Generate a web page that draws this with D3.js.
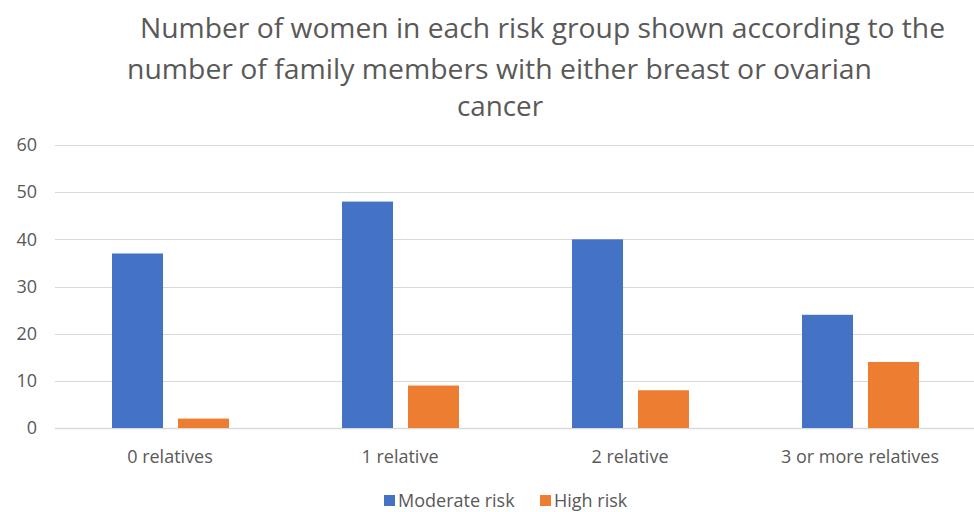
<!DOCTYPE html>
<html>
<head>
<meta charset="utf-8">
<script src="https://cdn.jsdelivr.net/npm/d3@7"></script>
<style>
  body { margin: 0; background: #fff; }
  text { font-family: "Open Sans", "Noto Sans", sans-serif; fill: #595959; }
</style>
</head>
<body>
<script>
const width = 974;
const height = 512;

const categories = ['0 relatives', '1 relative', '2 relative', '3 or more relatives'];
const seriesNames = ['Moderate risk', 'High risk'];
const moderate = [37, 48, 40, 24];
const high = [2, 9, 8, 14];
const yTicks = [0, 10, 20, 30, 40, 50, 60];
const titleLines = [
  'Number of women in each risk group shown according to the',
  'number of family members with either breast or ovarian',
  'cancer',
];
const colors = ['#4472C4', '#ED7D31'];

const rows = categories.map(function (c, i) {
  return { cat: c, values: [moderate[i], high[i]] };
});

const svg = d3.select('body').append('svg').attr('width', width).attr('height', height);

// title
const titlePos = [
  { x: 140, y: 38, w: 805 },
  { x: 127, y: 79, w: 745 },
  { x: 457, y: 116, w: 86 },
];
svg
  .selectAll('.title')
  .data(titleLines)
  .enter()
  .append('text')
  .attr('class', 'title')
  .attr('x', (d, i) => titlePos[i].x)
  .attr('y', (d, i) => titlePos[i].y)
  .attr('textLength', (d, i) => titlePos[i].w)
  .attr('lengthAdjust', 'spacingAndGlyphs')
  .style('font-size', '28px')
  .text((d) => d);

const x = d3.scaleBand().domain(categories).range([55, 975]).padding(0);
const xs = d3.scaleBand().domain(seriesNames).range([57, 174]).paddingInner(0.227).paddingOuter(0);
const y = d3.scaleLinear().domain([0, 60]).range([428, 145]);

// gridlines
svg
  .selectAll('.grid')
  .data(yTicks)
  .enter()
  .append('line')
  .attr('class', 'grid')
  .attr('x1', 55)
  .attr('x2', 975)
  .attr('y1', (d) => Math.round(y(d)) + 0.5)
  .attr('y2', (d) => Math.round(y(d)) + 0.5)
  .attr('stroke', '#D9D9D9')
  .attr('stroke-width', (d) => (d === 0 ? 1.5 : 1));

// y tick labels
svg
  .selectAll('.ytick')
  .data(yTicks)
  .enter()
  .append('text')
  .attr('class', 'ytick')
  .attr('x', 37)
  .attr('y', (d) => y(d))
  .attr('dy', '0.35em')
  .attr('text-anchor', 'end')
  .style('font-size', '18px')
  .text((d) => d);

// bars
const groups = svg
  .selectAll('.group')
  .data(rows)
  .enter()
  .append('g')
  .attr('class', 'group')
  .attr('transform', (d) => 'translate(' + x(d.cat) + ',0)');

groups
  .selectAll('rect')
  .data((d) => d.values.map((v, i) => ({ name: seriesNames[i], v: v, i: i })))
  .enter()
  .append('rect')
  .attr('x', (d) => xs(d.name))
  .attr('width', xs.bandwidth())
  .attr('y', (d) => y(d.v))
  .attr('height', (d) => y(0) - y(d.v))
  .attr('fill', (d) => colors[d.i]);

// x labels
svg
  .selectAll('.xtick')
  .data(categories)
  .enter()
  .append('text')
  .attr('class', 'xtick')
  .attr('x', (d) => x(d) + x.bandwidth() / 2)
  .attr('y', 463)
  .attr('text-anchor', 'middle')
  .style('font-size', '18px')
  .text((d) => d);

// legend
const legendX = [384, 540];
const legend = svg
  .selectAll('.legend')
  .data(seriesNames)
  .enter()
  .append('g')
  .attr('class', 'legend')
  .attr('transform', (d, i) => 'translate(' + legendX[i] + ',495)');

legend
  .append('rect')
  .attr('width', 11)
  .attr('height', 11)
  .attr('fill', (d, i) => colors[i]);

legend
  .append('text')
  .attr('x', 14)
  .attr('y', 11.5)
  .style('font-size', '18px')
  .text((d) => d);
</script>
</body>
</html>
